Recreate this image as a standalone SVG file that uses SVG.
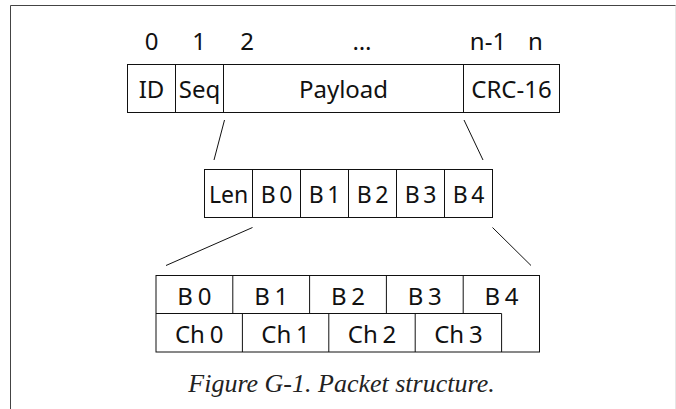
<svg xmlns="http://www.w3.org/2000/svg" width="676" height="409" viewBox="0 0 676 409">
<style>
.cell{fill:#fff;stroke:#111;stroke-width:1}
.ln{stroke:#111;stroke-width:1;fill:none}
.t{font-family:"Noto Sans","DejaVu Sans",sans-serif;font-size:24px;fill:#111;text-anchor:middle}
.m{font-size:23px;word-spacing:-2.5px}
.b{word-spacing:-1.5px}
.cap{font-family:"Liberation Serif","Times New Roman",serif;font-style:italic;font-size:26px;fill:#222;text-anchor:middle}
</style>
<rect x="0" y="0" width="676" height="409" fill="#fff"/>
<g id="frame">
<path d="M10.5 409 V5.5 H676" fill="none" stroke="#444" stroke-width="1"/>
<line x1="675.5" y1="5.5" x2="675.5" y2="409" stroke="#e6e6e6" stroke-width="1"/>
</g>
<g id="indices">
<text class="t" x="151.5" y="50">0</text>
<text class="t" x="199" y="50">1</text>
<text class="t" x="247" y="50">2</text>
<text class="t" x="362" y="50">…</text>
<text class="t" x="488" y="50">n-1</text>
<text class="t" x="535.5" y="50">n</text>
</g>
<g id="packet">
<rect class="cell" x="127.5" y="64.5" width="432" height="48"/>
<line class="ln" x1="175.5" y1="64.5" x2="175.5" y2="112.5"/>
<line class="ln" x1="223.5" y1="64.5" x2="223.5" y2="112.5"/>
<line class="ln" x1="463.5" y1="64.5" x2="463.5" y2="112.5"/>
<text class="t" x="151.5" y="98">ID</text>
<text class="t" x="199.5" y="98">Seq</text>
<text class="t" x="343.5" y="98">Payload</text>
<text class="t" x="511.5" y="98">CRC-16</text>
</g>
<g id="payload">
<rect class="cell" x="204.5" y="169.5" width="288" height="48"/>
<line class="ln" x1="252.5" y1="169.5" x2="252.5" y2="217.5"/>
<line class="ln" x1="300.5" y1="169.5" x2="300.5" y2="217.5"/>
<line class="ln" x1="348.5" y1="169.5" x2="348.5" y2="217.5"/>
<line class="ln" x1="396.5" y1="169.5" x2="396.5" y2="217.5"/>
<line class="ln" x1="444.5" y1="169.5" x2="444.5" y2="217.5"/>
<text class="t m" x="228.5" y="203">Len</text>
<text class="t m" x="276.5" y="203">B 0</text>
<text class="t m" x="324.5" y="203">B 1</text>
<text class="t m" x="372.5" y="203">B 2</text>
<text class="t m" x="420.5" y="203">B 3</text>
<text class="t m" x="468.5" y="203">B 4</text>
</g>
<g id="bits">
<rect class="cell" x="156" y="275.5" width="383.5" height="76.5"/>
<line class="ln" x1="156" y1="313.5" x2="501.6" y2="313.5"/>
<line class="ln" x1="232.8" y1="275.5" x2="232.8" y2="313.5"/>
<line class="ln" x1="309.6" y1="275.5" x2="309.6" y2="313.5"/>
<line class="ln" x1="386.4" y1="275.5" x2="386.4" y2="313.5"/>
<line class="ln" x1="463.2" y1="275.5" x2="463.2" y2="313.5"/>
<line class="ln" x1="242.4" y1="313.5" x2="242.4" y2="352"/>
<line class="ln" x1="328.8" y1="313.5" x2="328.8" y2="352"/>
<line class="ln" x1="415.2" y1="313.5" x2="415.2" y2="352"/>
<line class="ln" x1="501.6" y1="313.5" x2="501.6" y2="352"/>
<text class="t b" x="194.4" y="304.5">B 0</text>
<text class="t b" x="271.2" y="304.5">B 1</text>
<text class="t b" x="348" y="304.5">B 2</text>
<text class="t b" x="424.8" y="304.5">B 3</text>
<text class="t b" x="501.5" y="304.5">B 4</text>
<text class="t b" x="199.2" y="343">Ch 0</text>
<text class="t b" x="285.6" y="343">Ch 1</text>
<text class="t b" x="372" y="343">Ch 2</text>
<text class="t b" x="458.4" y="343">Ch 3</text>
</g>
<g id="connectors">
<line class="ln" x1="224.5" y1="120" x2="214" y2="160"/>
<line class="ln" x1="464" y1="120" x2="483" y2="160"/>
<line class="ln" x1="252.5" y1="227.5" x2="166" y2="265.5"/>
<line class="ln" x1="492.5" y1="227.5" x2="531" y2="265.5"/>
</g>
<g id="caption">
<text class="cap" x="341.5" y="391.5">Figure G-1. Packet structure.</text>
</g>
</svg>
